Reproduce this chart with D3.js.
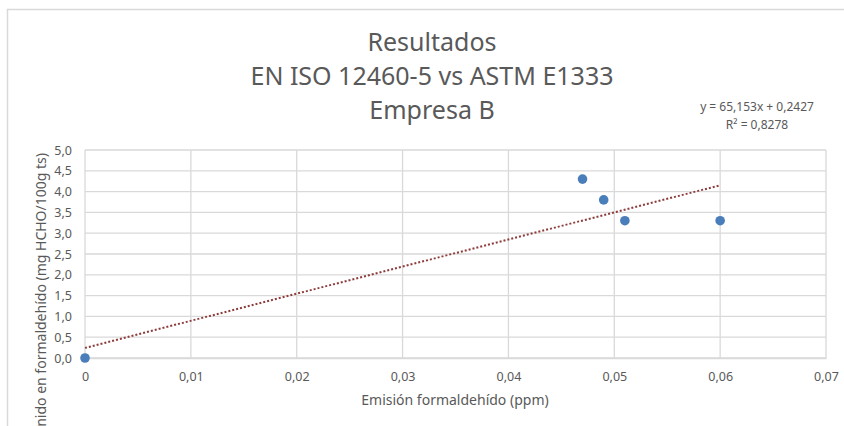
<!DOCTYPE html>
<html>
<head>
<meta charset="utf-8">
<script src="https://cdn.jsdelivr.net/npm/d3@7"></script>
<style>
	body{margin:0;background:#fff;}
	svg{display:block;font-family:"Noto Sans","Open Sans",sans-serif;}
</style>
</head>
<body>
<div id="chart"></div>
<script>

const xValues = [0, 0.047, 0.049, 0.051, 0.06];
const yValues = [0, 4.3, 3.8, 3.3, 3.3];
const xTicks = [0, 0.01, 0.02, 0.03, 0.04, 0.05, 0.06, 0.07];
const yTicks = [0, 0.5, 1, 1.5, 2, 2.5, 3, 3.5, 4, 4.5, 5];
const titleLines = ["Resultados", "EN ISO 12460-5 vs ASTM E1333", "Empresa B"];
const trendSlope = 65.153;
const trendIntercept = 0.2427;
const trendRange = [0, 0.06];

function drawChart(rootDOM){

	const W = 844;
	const H = 426;
	const m = {t:150,r:18,b:68,l:85};

	const svg = d3.select(rootDOM).append("svg")
		.attr("width", W)
		.attr("height", H);

	// chart frame
	svg.append("rect")
		.attr("x", 7.5).attr("y", 9.5)
		.attr("width", W + 10).attr("height", H + 10)
		.attr("fill", "none")
		.attr("stroke", "#d9d9d9")
		.attr("stroke-width", 1.5);

	const x = d3.scaleLinear()
		.domain([0, 0.07])
		.range([m.l, W - m.r]);

	const y = d3.scaleLinear()
		.domain([0, 5])
		.range([H - m.b, m.t]);

	const fmt = v => v === 0 ? "0" : d3.format(".2f")(v).replace(".", ",");
	const fmtY = v => d3.format(".1f")(v).replace(".", ",");

	// gridlines
	svg.append("g")
		.selectAll("line")
		.data(yTicks)
		.join("line")
		.attr("x1", x(0)).attr("x2", x(0.07))
		.attr("y1", d => y(d)).attr("y2", d => y(d))
		.attr("stroke", "#d9d9d9")
		.attr("stroke-width", 1.3);

	svg.append("g")
		.selectAll("line")
		.data(xTicks)
		.join("line")
		.attr("x1", d => x(d)).attr("x2", d => x(d))
		.attr("y1", y(0)).attr("y2", y(5))
		.attr("stroke", "#d9d9d9")
		.attr("stroke-width", 1.3);

	// axes labels
	const xAxis = svg.append("g")
		.attr("transform", `translate(0,${y(0)})`)
		.call(d3.axisBottom(x).tickValues(xTicks).tickFormat(fmt).tickSize(0).tickPadding(14));
	xAxis.select(".domain").attr("stroke", "#d9d9d9").attr("stroke-width", 1.3);

	const yAxis = svg.append("g")
		.attr("transform", `translate(${x(0)},0)`)
		.call(d3.axisLeft(y).tickValues(yTicks).tickFormat(fmtY).tickSize(0).tickPadding(13));
	yAxis.select(".domain").remove();

	svg.selectAll(".tick text")
		.attr("fill", "#595959")
		.style("font-size", "12.5px")
		.style("font-family", "'Liberation Sans Narrow','Noto Sans',sans-serif");

	// trendline
	const line = d3.line()
		.x(d => x(d))
		.y(d => y(trendSlope * d + trendIntercept));

	svg.append("path")
		.datum(trendRange)
		.attr("d", line)
		.attr("fill", "none")
		.attr("stroke", "#8e3b3b")
		.attr("stroke-width", 2)
		.attr("stroke-dasharray", "2,2");

	// points
	svg.append("g")
		.selectAll("circle")
		.data(xValues.map((v, i) => [v, yValues[i]]))
		.join("circle")
		.attr("cx", d => x(d[0]))
		.attr("cy", d => y(d[1]))
		.attr("r", 4.8)
		.attr("fill", "#4a7ebb");

	// title
	svg.append("g")
		.selectAll("text")
		.data(titleLines)
		.join("text")
		.attr("x", 432)
		.attr("y", (d, i) => 51 + i * 34)
		.attr("text-anchor", "middle")
		.attr("fill", "#595959")
		.style("font-size", "25px")
		.text(d => d);

	// equation
	svg.append("text")
		.attr("x", 757).attr("y", 111)
		.attr("text-anchor", "middle")
		.attr("fill", "#595959")
		.style("font-size", "12px")
		.text(`y = ${String(trendSlope).replace(".", ",")}x + ${String(trendIntercept).replace(".", ",")}`);

	svg.append("text")
		.attr("x", 757).attr("y", 129)
		.attr("text-anchor", "middle")
		.attr("fill", "#595959")
		.style("font-size", "12px")
		.html("R² = 0,8278");

	// axis titles
	svg.append("text")
		.attr("x", 455).attr("y", 405)
		.attr("text-anchor", "middle")
		.attr("fill", "#595959")
		.style("font-size", "14px")
		.style("font-family", "'Liberation Sans Narrow','Noto Sans',sans-serif")
		.text("Emisión formaldehído (ppm)");

	svg.append("text")
		.attr("transform", "translate(46,153) rotate(-90)")
		.attr("text-anchor", "end")
		.attr("fill", "#595959")
		.style("font-size", "14px")
		.text("Contenido en formaldehído (mg HCHO/100g ts)");
}

drawChart(document.getElementById("chart"));
</script>
</body>
</html>
